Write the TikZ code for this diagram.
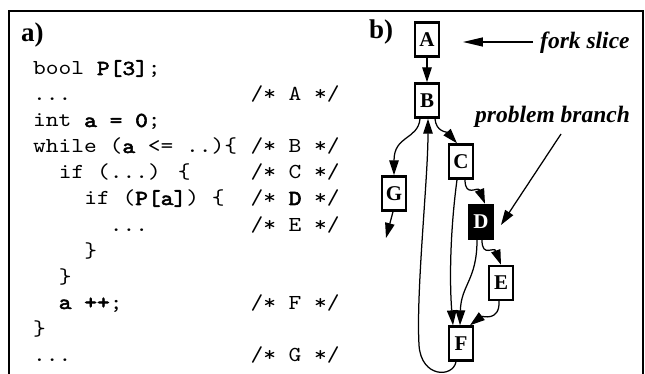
\documentclass[tikz,border=0pt]{standalone}
\usepackage{fontspec}
\setmainfont{Liberation Serif}
\newfontfamily\codefont[Extension=.otf, FakeStretch=1.14, BoldFont=lmmono10-regular, BoldFeatures={FakeBold=2.5}]{lmmono10-regular}
\usetikzlibrary{arrows.meta}
\begin{document}
\begin{tikzpicture}[x=1pt,y=-1pt,
  nbox/.style={draw, line width=2.4pt, minimum width=23.5pt, minimum height=34pt, inner sep=0pt, font=\bfseries\fontsize{21}{21}\selectfont},
  edge/.style={line width=1.25pt, -{Triangle[length=15pt,width=9.5pt]}},
  code/.style={anchor=base west, inner sep=0pt, font=\codefont\fontsize{21.3}{26}\selectfont},
  lbl/.style={anchor=base west, inner sep=0pt, font=\bfseries\itshape\fontsize{23.5}{24}\selectfont},
  panel/.style={anchor=base west, inner sep=0pt, font=\bfseries\fontsize{27}{27}\selectfont}]
\useasboundingbox (0,0) rectangle (645,374);
\clip (0,0) rectangle (645,374);
\draw[line width=1.4pt] (9,11) rectangle (643,420);

% panel labels
\node[panel] (pa) at (21,42) {a)};
\node[panel] (pb) at (369,39) {b)};

% code
\node[code] (c1) at (33,75) {bool \textbf{P[3]};};
\node[code] (c2) at (33,101) {...};
\node[code] (k2) at (250.3,101) {/* A */};
\node[code] (c3) at (33,127) {int \textbf{a = 0};};
\node[code] (c4) at (33,153) {while (\textbf{a} <= ..)\{};
\node[code] (k4) at (250.3,153) {/* B */};
\node[code] (c5) at (58.6,179) {if (...) \{};
\node[code] (k5) at (250.3,179) {/* C */};
\node[code] (c6) at (84.1,205) {if (\textbf{P[a]}) \{};
\node[code] (k6) at (250.3,205) {/* \textbf{D} */};
\node[code] (c7) at (109.7,231) {...};
\node[code] (k7) at (250.3,231) {/* E */};
\node[code] (c8) at (84.1,257) {\}};
\node[code] (c9) at (58.6,283) {\}};
\node[code] (c10) at (58.6,309) {\textbf{a ++};};
\node[code] (k10) at (250.3,309) {/* F */};
\node[code] (c11) at (33,335) {\}};
\node[code] (c12) at (33,361) {...};
\node[code] (k12) at (250.3,361) {/* G */};

% graph nodes
\node[nbox] (A) at (427,39.5) {A};
\node[nbox] (B) at (427,100.5) {B};
\node[nbox] (C) at (461,161.5) {C};
\node[nbox] (G) at (394,193.5) {G};
\node[nbox, fill=black, text=white] (D) at (481,222) {D};
\node[nbox] (E) at (501,283) {E};
\node[nbox] (F) at (461,343.5) {F};

% edges
\draw[edge] (A) -- (B);
\draw[edge] ([xshift=-7pt]B.south) .. controls (418,140) and (394,135) .. (G.north);
\draw[edge] ([xshift=8pt]B.south) .. controls (436,132) and (447,132) .. ([xshift=-4pt]C.north);
\draw[edge] ([xshift=4pt]C.south) .. controls (465,198) and (478,186) .. ([xshift=4pt]D.north);
\draw[edge] ([xshift=1pt]D.south) .. controls (482,258) and (494,246) .. (E.north);
\draw[edge] ([xshift=-4pt]C.south) .. controls (449,240) and (450,290) .. ([xshift=-8pt]F.north);
\draw[edge] ([xshift=-4pt]D.south) .. controls (477,280) and (461,285) .. ([xshift=-1pt]F.north);
\draw[edge] ([xshift=-2pt]E.south) .. controls (500,322) and (482,316) .. ([xshift=-4pt]F.north east);
\draw[edge] ([xshift=-5pt]F.south) .. controls (453,378) and (421,378) .. (419,345)
   .. controls (416,290) and (428,180) .. ([xshift=1pt]B.south);
\coordinate (gend) at (386,238);
\draw[edge] ([xshift=-1pt]G.south) -- (gend);

% annotations
\node[lbl] (fork) at (540,49) {fork slice};
\coordinate (fs) at (533,42);
\draw[line width=1.25pt, -{Triangle[length=20pt,width=9pt]}] (fs) -- ([xshift=23pt,yshift=-2.5pt]A.east);
\node[lbl] (prob) at (475,123) {problem branch};
\coordinate (ps) at (561,134);
\draw[edge] (ps) -- ([xshift=7pt,yshift=-3pt]D.east);
\end{tikzpicture}
\end{document}
